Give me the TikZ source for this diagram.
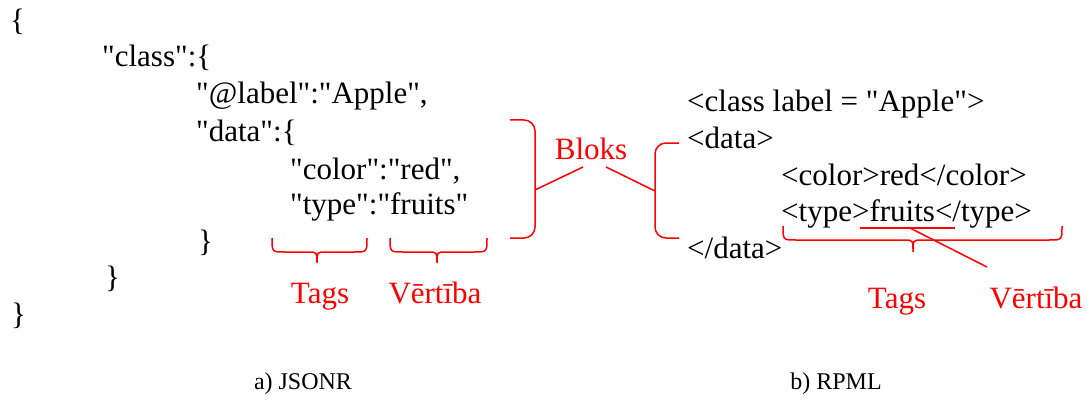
\documentclass[tikz,border=0pt]{standalone}
\usepackage{fontspec}
\setmainfont{Liberation Serif}[Ligatures=TeXOff]
\newcommand\ubr[6]{% x1, x2, xtip, ytop, yh, ytip
  \draw[rl] (#1,#4) .. controls (#1,#5) .. ({#1+13},#5) -- ({#3-9},#5)
    .. controls (#3,#5) .. (#3,#6) .. controls (#3,#5) .. ({#3+9},#5)
    -- ({#2-13},#5) .. controls (#2,#5) .. (#2,#4);}
\begin{document}
\begin{tikzpicture}[x=1pt,y=-1pt,
  txt/.style={anchor=base west,inner sep=0pt,font=\fontsize{31}{36}\selectfont},
  lbl/.style={anchor=base,inner sep=0pt,text=red,font=\fontsize{31}{36}\selectfont},
  captxt/.style={anchor=base,inner sep=0pt,font=\fontsize{24}{28}\selectfont},
  rl/.style={draw=red,line width=1.5pt}]
\useasboundingbox (0,0) rectangle (1091,401);
% JSONR
\node[txt] (j1) at (10,31) {\{};
\node[txt] (j2) at (102,67) {"class":\{};
\node[txt] (j3) at (196,104) {"@label":"Apple",};
\node[txt] (j4) at (196,141) {"data":\{};
\node[txt] (j5) at (290,179) {"color":"red",};
\node[txt] (j6) at (290,214) {"type":"fruits"};
\node[txt] (j7) at (198,251) {\}};
\node[txt] (j8) at (105,287) {\}};
\node[txt] (j9) at (11,324) {\}};
% RPML
\node[txt] (r1) at (687,112) {<class label = "Apple">};
\node[txt] (r2) at (687,148) {<data>};
\node[txt] (r3) at (781,185) {<color>red</color>};
\node[txt] (r4) at (781,221) {<type>fruits</type>};
\node[txt] (r5) at (687,258) {</data>};
% labels
\node[lbl] (bloks) at (591,159) {Bloks};
\node[lbl] (tagsL) at (320,303) {Tags};
\node[lbl] (valL) at (435,303) {Vērtība};
\node[lbl] (tagsR) at (897,308) {Tags};
\node[lbl] (valR) at (1036,308) {Vērtība};
\node[captxt] (capa) at (303,389) {a) JSONR};
\node[captxt] (capb) at (836,389) {b) RPML};
% Bloks braces
\coordinate (lbt) at (535,190);
\coordinate (rbt) at (655,191);
\coordinate (bkl) at (583,167);
\coordinate (bkr) at (606,167);
\draw[rl,rounded corners=11pt] (510,120) -- (535,120) -- (535,238) -- (510,238);
\draw[rl,rounded corners=11pt] (679,143) -- (655,143) -- (655,238) -- (679,238);
\draw[rl] (lbt) -- (bkl);
\draw[rl] (rbt) -- (bkr);
% under braces
\ubr{272}{367}{317}{238}{252}{263}
\ubr{390}{487}{437}{238}{252}{263}
\ubr{783}{1062}{913}{226}{240}{252}
% underline of fruits and its connector
\coordinate (ulA) at (860,228);
\coordinate (ulB) at (955,228);
\coordinate (ulM) at (910,228);
\coordinate (vend) at (987,267);
\draw[rl] (ulA) -- (ulB);
\draw[rl] (ulM) -- (vend);
\end{tikzpicture}
\end{document}
